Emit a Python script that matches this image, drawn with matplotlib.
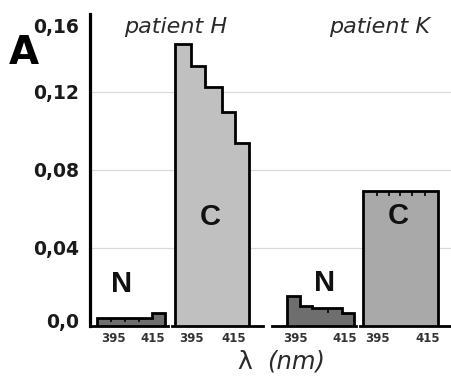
import matplotlib
matplotlib.use("Agg")
import matplotlib.pyplot as plt
from matplotlib.transforms import ScaledTranslation

# ---- data ----
y_ticks = [0.0, 0.04, 0.08, 0.12, 0.16]
y_tick_labels = ["0,0", "0,04", "0,08", "0,12", "0,16"]
x_ticks = [395, 415]
x_tick_labels = ["395", "415"]

patients = ["patient H", "patient K"]

# patient H, normal tissue (N)
hN_edges = [387, 394, 401, 408, 414.5, 421]
hN_values = [0.004, 0.004, 0.004, 0.004, 0.0068]
# patient H, cancer tissue (C)
hC_edges = [386.9, 394.5, 401.2, 409.3, 415.5, 422.1]
hC_values = [0.1445, 0.1335, 0.1225, 0.1095, 0.094]
# patient K, normal tissue (N)
kN_edges = [391.8, 397.0, 401.8, 408.2, 413.8, 418.6]
kN_values = [0.0153, 0.0103, 0.0090, 0.0090, 0.0068]
# patient K, cancer tissue (C)
kC_edges = [389.5, 395.0, 399.7, 404.1, 408.8, 413.8, 418.9]
kC_values = [0.069, 0.069, 0.069, 0.069, 0.069, 0.069]

# ---- figure ----
W, H = 452, 377
fig = plt.figure(figsize=(W / 100, H / 100), dpi=100)
fig.patch.set_facecolor("white")

def px(x0, x1, y0=14, y1=326):
    return [x0 / W, (H - y1) / H, (x1 - x0) / W, (y1 - y0) / H]

# background axes for the gridlines
bg = fig.add_axes(px(90, 452))
bg.set_ylim(0, 0.16)
bg.set_xlim(0, 1)
for y in y_ticks[1:4]:
    bg.axhline(y, color="#d9d9d9", lw=0.9, zorder=0)
bg.axis("off")

panels = [
    ((90, 168), (383.5, 422.5), hN_edges, hN_values, "#6e6e6e", "N"),
    ((172, 263), (385.5, 428.8), hC_edges, hC_values, "#c0c0c0", "C"),
    ((272, 356), (385.8, 419.4), kN_edges, kN_values, "#6e6e6e", "N"),
    ((360, 452), (388.3, 424.4), kC_edges, kC_values, "#a9a9a9", "C"),
]
letter_pos = [(399.5, 0.0215), (403.6, 0.056), (407.0, 0.0220), (403.2, 0.0565)]

axes = []
for i, ((x0, x1), xl, edges, vals, fc, letter) in enumerate(panels):
    ax = fig.add_axes(px(x0, x1))
    ax.patch.set_alpha(0)
    ax.set_xlim(*xl)
    ax.set_ylim(0, 0.16)
    ax.stairs(vals, edges, baseline=0, fill=True, facecolor=fc,
              edgecolor="black", linewidth=2.0, zorder=2)
    # small bin-divider marks where neighbouring bins are equal
    for j in range(1, len(vals)):
        if abs(vals[j] - vals[j - 1]) < 1e-9:
            ax.plot([edges[j], edges[j]], [vals[j], vals[j] - 0.0022],
                    color="black", lw=1.2, zorder=3, solid_capstyle="butt")
    ax.text(letter_pos[i][0], letter_pos[i][1], letter, ha="center", va="center",
            fontsize=21, fontweight="bold", family="Liberation Sans",
            color="#111111", zorder=4)
    for s in ["top", "right", "left"]:
        ax.spines[s].set_visible(False)
    ax.spines["bottom"].set_linewidth(2.0)
    ax.spines["bottom"].set_color("black")
    ax.set_xticks(x_ticks)
    ax.set_xticklabels(x_tick_labels, fontsize=8.5, fontweight="bold",
                       color="#333333", family="DejaVu Sans")
    ax.tick_params(axis="x", length=0, pad=4)
    ax.set_yticks([])
    axes.append(ax)

# y axis on first panel
ax0 = axes[0]
ax0.spines["left"].set_visible(True)
ax0.spines["left"].set_linewidth(2.3)
ax0.set_yticks(y_ticks)
ax0.set_yticklabels(y_tick_labels, fontsize=13.5, fontweight="bold",
                    color="#1a1a1a", family="DejaVu Sans")
ax0.tick_params(axis="y", length=0, pad=8)
labs = ax0.get_yticklabels()
offsets = [5.5, 0, 0, 0, -11.5]
for lab, off in zip(labs, offsets):
    lab.set_transform(lab.get_transform() + ScaledTranslation(0, off / 100, fig.dpi_scale_trans))

# big "A"
fig.text(24 / W, 1 - 53 / H, "A", ha="center", va="center", fontsize=28,
         fontweight="bold", family="DejaVu Sans", color="black")

# patient titles
fig.text(176 / W, 1 - 33 / H, patients[0], ha="center", va="baseline",
         fontsize=16, style="italic", family="DejaVu Sans", color="#2a2a2a")
fig.text(380 / W, 1 - 33 / H, patients[1], ha="center", va="baseline",
         fontsize=16, style="italic", family="DejaVu Sans", color="#2a2a2a")

# x-axis label
fig.text(245 / W, 1 - 362 / H, "λ", ha="center", va="center", fontsize=18,
         family="DejaVu Sans", color="#2a2a2a")
fig.text(296 / W, 1 - 362 / H, "(nm)", ha="center", va="center", fontsize=17.5,
         style="italic", family="DejaVu Sans", color="#2a2a2a")

fig.savefig("out.png", dpi=100, facecolor="white")
